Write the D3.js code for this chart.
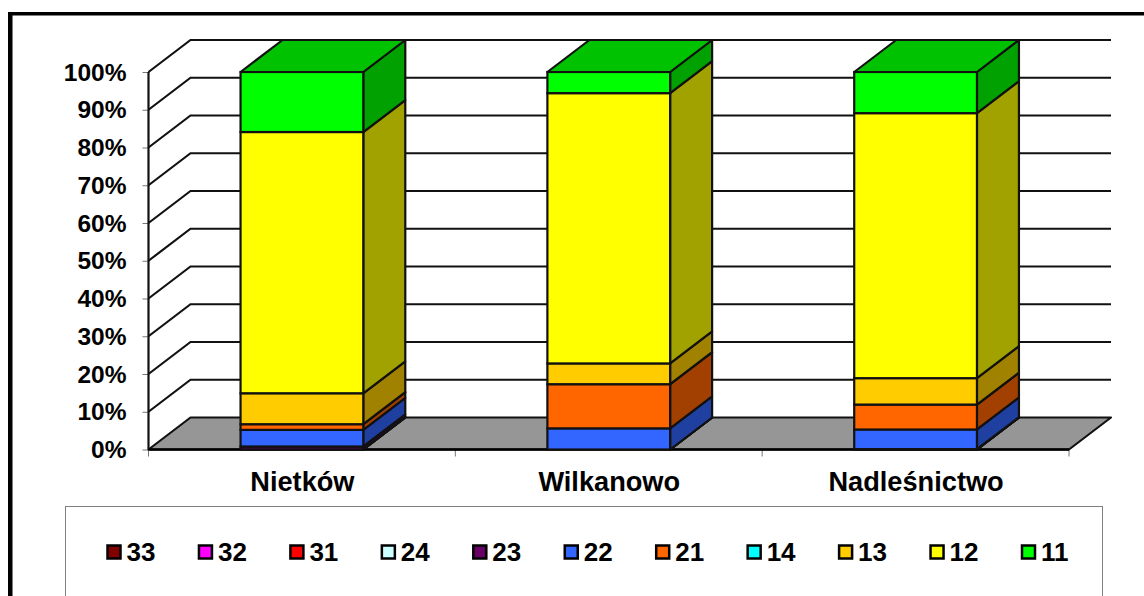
<!DOCTYPE html>
<html><head><meta charset="utf-8">
<script src="https://cdn.jsdelivr.net/npm/d3@7"></script>
<style>
html,body{margin:0;padding:0;background:#fff;overflow:hidden}
svg{display:block}
text{font-family:"Liberation Sans",Arial,sans-serif;font-weight:bold;fill:#000}
</style></head><body>
<svg id="c" width="1144" height="596"></svg>
<script>
const categories = ["Nietków", "Wilkanowo", "Nadleśnictwo"];
const seriesNames = ["33","32","31","24","23","22","21","14","13","12","11"];
const seriesColors = ["#800000","#ff00ff","#ff0000","#ccffff","#660066","#3366ff","#ff6600","#00ffff","#ffcc00","#ffff00","#00ff00"];
const v33 = [0, 0, 0];
const v32 = [0, 0, 0];
const v31 = [0, 0, 0];
const v24 = [0, 0, 0];
const v23 = [0.8, 0, 0.1];
const v22 = [4.4, 5.6, 5.2];
const v21 = [1.5, 11.7, 6.6];
const v14 = [0, 0, 0];
const v13 = [8.2, 5.5, 7.0];
const v12 = [69.2, 71.6, 70.2];
const v11 = [15.9, 5.6, 10.9];
const seriesValues = [v33,v32,v31,v24,v23,v22,v21,v14,v13,v12,v11];
const yTicks = [0,10,20,30,40,50,60,70,80,90,100];

const svg = d3.select("#c");
const W = 1144;
const depthX = 42, depthY = 32;
const x = d3.scaleBand().domain(categories).range([148.5, 1069]).paddingInner(0.6).paddingOuter(0.3);
const y = d3.scaleLinear().domain([0,100]).range([449.5, 72]);
const x0 = 148.5, x1 = 1069;

// frame
svg.append("rect").attr("x",8).attr("y",12).attr("width",W-8).attr("height",3.5).attr("fill","#000");
svg.append("rect").attr("x",8).attr("y",12).attr("width",4.5).attr("height",596).attr("fill","#000");

// axes (ticks only)
const yAxis = d3.axisLeft(y).tickValues(yTicks).tickSize(6).tickFormat("");
const gy = svg.append("g").attr("transform",`translate(${x0},0)`).call(yAxis);
gy.select(".domain").remove();
gy.selectAll("line").attr("stroke","#777").attr("stroke-width",1);

const xEdges = d3.range(categories.length+1).map(i => x0 + i*(x1-x0)/categories.length);
svg.append("g").selectAll("line").data(xEdges).join("line")
  .attr("x1",d=>d).attr("x2",d=>d).attr("y1",y(0)).attr("y2",y(0)+7)
  .attr("stroke","#777").attr("stroke-width",1);

// floor
const floorPts = [[x0,y(0)],[x0+depthX,y(0)-depthY],[x1+depthX,y(0)-depthY],[x1,y(0)]];
svg.append("polygon").attr("points",floorPts.join(" "))
  .attr("fill","#969696").attr("stroke","#111").attr("stroke-width",2.2).attr("stroke-linejoin","round");

// gridlines on left & back walls
svg.append("g").selectAll("path").data(yTicks.filter(d=>d>0)).join("path")
  .attr("d",d=>d3.line()([[x0,y(d)],[x0+depthX,y(d)-depthY],[x1+depthX,y(d)-depthY]]))
  .attr("fill","none").attr("stroke","#111").attr("stroke-width",2.2);
svg.append("line").attr("x1",x0).attr("x2",x0).attr("y1",y(100)).attr("y2",y(0))
  .attr("stroke","#111").attr("stroke-width",2.2);
svg.append("line").attr("x1",x0).attr("x2",x1).attr("y1",y(0)).attr("y2",y(0))
  .attr("stroke","#000").attr("stroke-width",2.5);

// stacked 3D bars
const sideShade = c => { const r=d3.rgb(c); return d3.rgb(r.r*0.63,r.g*0.63,r.b*0.63).formatHex(); };
const topShade = c => { const r=d3.rgb(c); return d3.rgb(r.r*0.76,r.g*0.76,r.b*0.76).formatHex(); };
categories.forEach((cat,ci)=>{
  const g = svg.append("g");
  const bx0 = x(cat), bx1 = x(cat)+x.bandwidth();
  let acc = 0;
  seriesValues.forEach((vals,si)=>{
    const v = vals[ci];
    const ya = y(acc), yb = y(acc+v);
    const col = seriesColors[si];
    g.append("polygon").attr("points",[[bx1,ya],[bx1+depthX,ya-depthY],[bx1+depthX,yb-depthY],[bx1,yb]].join(" "))
      .attr("fill",sideShade(col)).attr("stroke","#111").attr("stroke-width",2.2).attr("stroke-linejoin","round");
    g.append("rect").attr("x",bx0).attr("y",yb).attr("width",bx1-bx0).attr("height",ya-yb)
      .attr("fill",col).attr("stroke","#111").attr("stroke-width",2.2);
    acc += v;
  });
  const yt = y(acc);
  g.append("polygon").attr("points",[[bx0,yt],[bx0+depthX,yt-depthY],[bx1+depthX,yt-depthY],[bx1,yt]].join(" "))
    .attr("fill",topShade("#00ff00")).attr("stroke","#111").attr("stroke-width",2.2).attr("stroke-linejoin","round");
});

// y labels
svg.append("g").selectAll("text").data(yTicks).join("text")
  .attr("x",126.5).attr("y",d=>y(d)+8.5).attr("text-anchor","end").attr("font-size",24.5)
  .text(d=>d+"%");

// x labels
svg.append("g").selectAll("text").data(categories).join("text")
  .attr("x",d=>x(d)+x.bandwidth()/2+0.5).attr("y",490.5).attr("text-anchor","middle").attr("font-size",27.2)
  .text(d=>d);

// legend
svg.append("rect").attr("x",65.5).attr("y",506.5).attr("width",1037).attr("height",120)
  .attr("fill","#fff").attr("stroke","#808080").attr("stroke-width",1);
const lx = d3.scalePoint().domain(seriesNames).range([106.5,1021]);
const lg = svg.append("g").selectAll("g").data(seriesNames).join("g")
  .attr("transform",d=>`translate(${lx(d)},552)`);
lg.append("rect").attr("x",1).attr("y",-6.5).attr("width",13).attr("height",13)
  .attr("fill",(d,i)=>seriesColors[i]).attr("stroke","#000").attr("stroke-width",2.5);
lg.append("text").attr("x",20).attr("y",9).attr("font-size",26).text(d=>d);
</script>
</body></html>
